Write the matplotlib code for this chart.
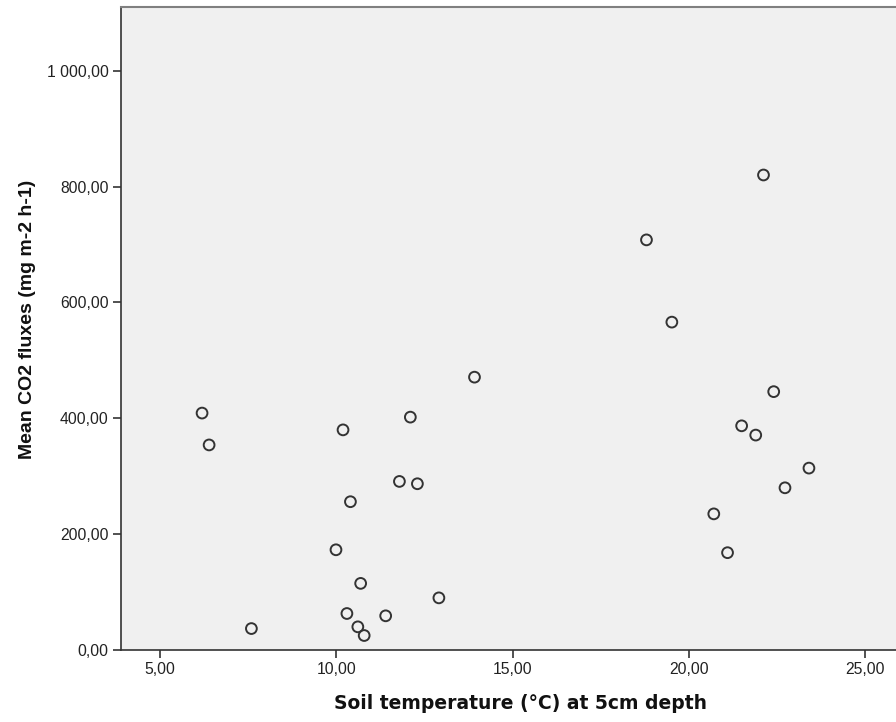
import matplotlib
matplotlib.use("Agg")
import matplotlib.pyplot as plt
from matplotlib.ticker import FuncFormatter

# Soil temperature (x) and mean CO2 flux (y)
soil_temp = [6.19, 6.39, 7.59, 9.99, 10.19, 10.40, 10.30, 10.61, 10.79, 10.69,
             11.40, 11.79, 12.10, 12.30, 12.91, 13.92, 18.80, 19.52, 20.71, 21.10,
             21.50, 21.90, 22.12, 22.41, 22.73, 23.41]
co2_flux = [409, 354, 37, 173, 380, 256, 63, 40, 25, 115,
            59, 291, 402, 287, 90, 471, 708, 566, 235, 168,
            387, 371, 820, 446, 280, 314]

x_ticks = [5, 10, 15, 20, 25]
y_ticks = [0, 200, 400, 600, 800, 1000]


def spss_fmt(v, pos):
    s = f"{v:,.2f}"  # 1,000.00
    return s.replace(",", " ").replace(".", ",")


plt.rcParams['font.family'] = ['Liberation Sans', 'DejaVu Sans']

fig = plt.figure(figsize=(8.96, 7.22), dpi=100)
ax = fig.add_axes([121 / 896, 72 / 722, 1 - 121 / 896, 643 / 722])
ax.set_facecolor("#F0F0F0")

ax.scatter(soil_temp, co2_flux, s=60, facecolors="none", edgecolors="#333333",
           linewidths=1.4, zorder=3)

ax.set_xlim(3.89, 25.88)
ax.set_ylim(0, 1110)
ax.set_xticks(x_ticks)
ax.set_yticks(y_ticks)
ax.xaxis.set_major_formatter(FuncFormatter(spss_fmt))
ax.yaxis.set_major_formatter(FuncFormatter(spss_fmt))
ax.tick_params(direction="out", length=6, width=1.2, color="#333333",
               labelsize=11.3, labelcolor="#222222", pad=3)

ax.spines["right"].set_visible(False)
for side in ("left", "bottom"):
    ax.spines[side].set_color("#333333")
    ax.spines[side].set_linewidth(1.2)
ax.spines["top"].set_color("#808080")
ax.spines["top"].set_linewidth(1.5)

ax.set_xlabel("Soil temperature (°C) at 5cm depth", fontsize=13.5,
              fontweight="bold", color="#111111", family="DejaVu Sans")
ax.set_ylabel("Mean CO2 fluxes (mg m-2 h-1)", fontsize=14,
              fontweight="bold", color="#111111")
ax.xaxis.set_label_coords((520 - 121) / 775, -44 / 643)
ax.yaxis.set_label_coords(-85 / 775, (650 - 319) / 643)

fig.savefig("out.png", dpi=100)
